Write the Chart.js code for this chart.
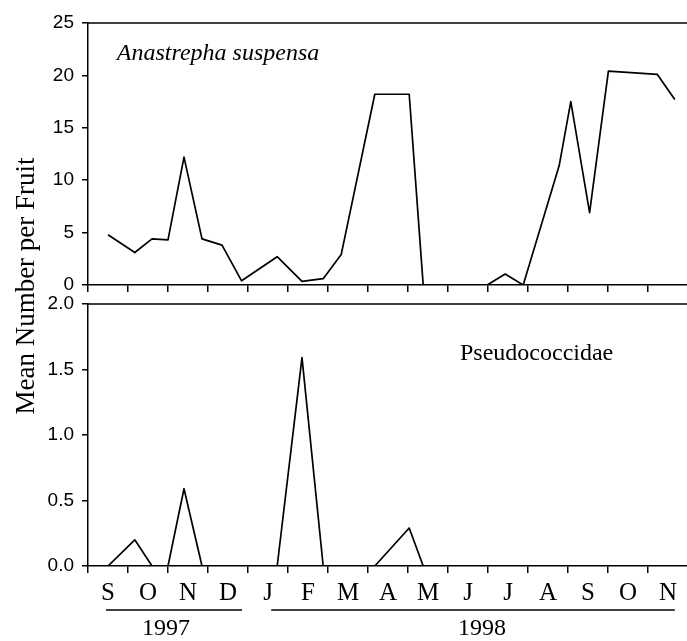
<!DOCTYPE html>
<html>
<head>
<meta charset="utf-8">
<script src="https://cdn.jsdelivr.net/npm/chart.js@4"></script>
<style>
  html, body { margin: 0; padding: 0; background: #fff; }
  #wrap { position: relative; width: 687px; height: 641px; }
  #wrap canvas { position: absolute; left: 0; top: 0; }
</style>
</head>
<body>
<div id="wrap">
  <canvas id="topChart" width="687" height="641"></canvas>
  <canvas id="bottomChart" width="687" height="641"></canvas>
</div>
<script>
// Data (x = months since start of September 1997)
const months = ["S", "O", "N", "D", "J", "F", "M", "A", "M", "J", "J", "A", "S", "O", "N"];
const years = ["1997", "1998"];
const sampleMonth = [0.5, 1.17, 1.6, 2.0, 2.4, 2.85, 3.35, 3.84, 4.73, 5.35, 5.88, 6.33,
  7.17, 8.03, 8.38, 9.98, 10.43, 10.88, 11.78, 12.07, 12.54, 13.01, 14.23, 14.67];
const anastrepha = [4.8, 3.1, 4.4, 4.3, 12.2, 4.4, 3.8, 0.4, 2.7, 0.35, 0.6, 2.9,
  18.2, 18.2, 0, 0, 1.05, 0, 11.4, 17.5, 6.9, 20.4, 20.1, 17.7];
const pseudococcidae = [0, 0.2, 0, 0, 0.59, 0, 0, 0, 0, 1.59, 0, 0,
  0, 0.29, 0, 0, 0, 0, 0, 0, 0, 0, 0, 0];
const topTicks = [0, 5, 10, 15, 20, 25];
const bottomTicks = [0, 0.5, 1.0, 1.5, 2.0];

const serif = "'Liberation Serif', 'Times New Roman', serif";
const sans = "'Liberation Sans', Arial, sans-serif";
const X_MAX = 14.975;

function points(vals) {
  return sampleMonth.map((m, i) => ({ x: m, y: vals[i] }));
}

// Garis atas panel
const frameTop = {
  id: "frameTop",
  afterDraw(chart) {
    const { ctx, chartArea } = chart;
    ctx.save();
    ctx.strokeStyle = "#000";
    ctx.lineWidth = 1.5;
    ctx.beginPath();
    ctx.moveTo(chartArea.left, chartArea.top);
    ctx.lineTo(chartArea.right, chartArea.top);
    ctx.stroke();
    ctx.restore();
  },
};

// Label nama panel
const panelLabel = {
  id: "panelLabel",
  afterDraw(chart, args, opts) {
    const { ctx, scales } = chart;
    ctx.save();
    ctx.fillStyle = "#000";
    ctx.font = opts.font;
    ctx.textAlign = "left";
    ctx.textBaseline = "middle";
    ctx.fillText(opts.text, scales.x.getPixelForValue(opts.x), scales.y.getPixelForValue(opts.y));
    ctx.restore();
  },
};

// Tahun dan judul sumbu Y
const yearsAndTitle = {
  id: "yearsAndTitle",
  afterDraw(chart) {
    const { ctx, scales, chartArea } = chart;
    const spans = [[0.45, 3.85], [4.58, 14.67]];
    const textAt = [1.95, 9.85];
    ctx.save();
    ctx.strokeStyle = "#000";
    ctx.fillStyle = "#000";
    ctx.lineWidth = 1.5;
    ctx.font = "24px " + serif;
    ctx.textAlign = "center";
    ctx.textBaseline = "middle";
    years.forEach((yr, i) => {
      const x0 = scales.x.getPixelForValue(spans[i][0]);
      const x1 = scales.x.getPixelForValue(spans[i][1]);
      const ly = chartArea.bottom + 44;
      ctx.beginPath();
      ctx.moveTo(x0, ly);
      ctx.lineTo(x1, ly);
      ctx.stroke();
      ctx.fillText(yr, scales.x.getPixelForValue(textAt[i]), chartArea.bottom + 63);
    });
    ctx.translate(27, 286);
    ctx.rotate(-Math.PI / 2);
    ctx.font = "27px " + serif;
    ctx.fillText("Mean Number per Fruit", 0, 0);
    ctx.restore();
  },
};

function xTickAxis(height) {
  return {
    type: "linear",
    min: 0,
    max: X_MAX,
    position: "bottom",
    weight: 0,
    afterBuildTicks: (s) => { s.ticks = months.map((m, i) => ({ value: i })); },
    ticks: { display: false },
    grid: { drawOnChartArea: false, drawTicks: true, tickLength: 7, color: "#000", lineWidth: 1.5 },
    border: { display: true, color: "#000", width: 1.5 },
    afterFit: (s) => { s.height = height; },
  };
}

function yAxis(max, tickVals, fmt) {
  return {
    type: "linear",
    min: 0,
    max: max,
    position: "left",
    afterBuildTicks: (s) => { s.ticks = tickVals.map((v) => ({ value: v })); },
    ticks: { font: { family: sans, size: 19 }, color: "#000", padding: 8, callback: fmt },
    grid: { drawOnChartArea: false, drawTicks: true, tickLength: 6, color: "#000", lineWidth: 1.5 },
    border: { display: true, color: "#000", width: 1.5 },
    afterFit: (s) => { s.width = 88; },
  };
}

function lineSet(vals) {
  return {
    data: points(vals),
    borderColor: "#000",
    borderWidth: 1.7,
    borderJoinStyle: "round",
    pointRadius: 0,
    tension: 0,
    fill: false,
  };
}

const common = {
  responsive: false,
  animation: false,
  devicePixelRatio: 1,
};

new Chart(document.getElementById("topChart"), {
  type: "line",
  data: { datasets: [lineSet(anastrepha)] },
  options: {
    ...common,
    layout: { padding: { top: 23, bottom: 348, left: 0, right: 0 } },
    scales: {
      x: xTickAxis(8),
      y: yAxis(25, topTicks, (v) => String(v)),
    },
    plugins: {
      legend: { display: false },
      tooltip: { enabled: false },
      panelLabel: { text: "Anastrepha suspensa", font: "italic 24px " + serif, x: 0.72, y: 22.1 },
    },
  },
  plugins: [frameTop, panelLabel],
});

new Chart(document.getElementById("bottomChart"), {
  type: "line",
  data: { datasets: [lineSet(pseudococcidae)] },
  options: {
    ...common,
    layout: { padding: { top: 304, bottom: 28, left: 0, right: 0 } },
    scales: {
      x: xTickAxis(7),
      xMonths: {
        type: "linear",
        min: 0,
        max: X_MAX,
        position: "bottom",
        weight: 1,
        afterBuildTicks: (s) => { s.ticks = months.map((m, i) => ({ value: i + 0.5 })); },
        ticks: {
          callback: (v, i) => months[i],
          font: { family: serif, size: 25 },
          color: "#000",
          padding: 5,
          maxRotation: 0,
          autoSkip: false,
        },
        grid: { display: false, drawTicks: false },
        border: { display: false },
        afterFit: (s) => { s.height = 40; },
      },
      y: yAxis(2, bottomTicks, (v) => v.toFixed(1)),
    },
    plugins: {
      legend: { display: false },
      tooltip: { enabled: false },
      panelLabel: { text: "Pseudococcidae", font: "24px " + serif, x: 9.3, y: 1.62 },
    },
  },
  plugins: [frameTop, panelLabel, yearsAndTitle],
});
</script>
</body>
</html>
